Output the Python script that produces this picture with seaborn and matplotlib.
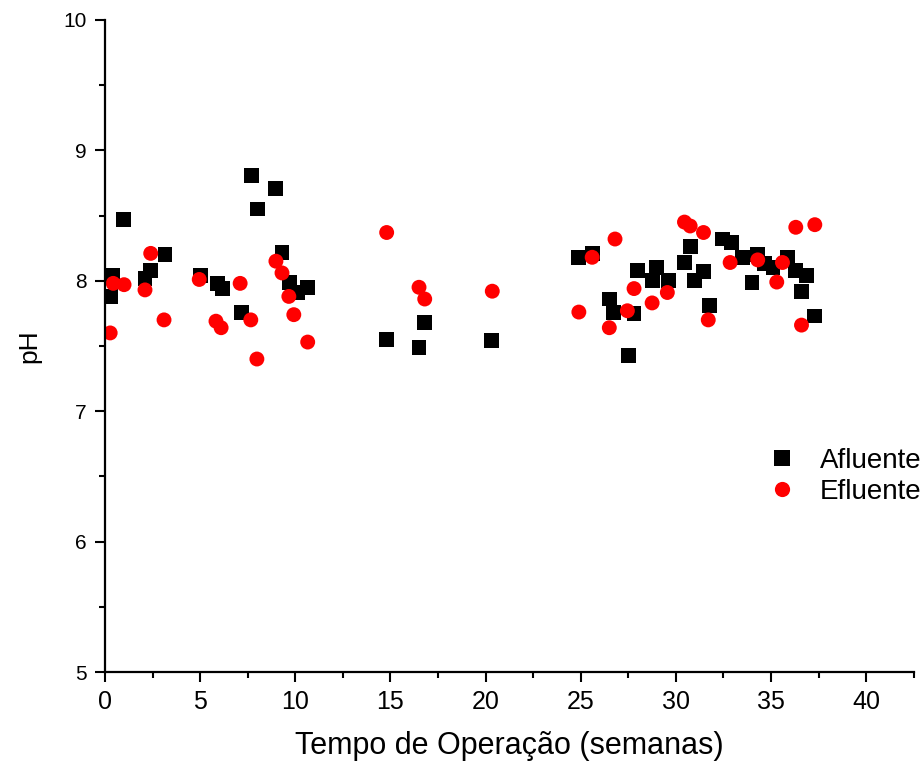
import matplotlib
matplotlib.use("Agg")
import matplotlib.pyplot as plt
import seaborn as sns
import pandas as pd
from matplotlib.ticker import MultipleLocator

afl_x = [0.27, 0.37, 0.95, 2.1, 2.4, 3.15, 5.0, 5.9, 6.15, 7.15, 7.7, 8.0, 8.98, 9.3, 9.7, 10.1, 10.65,
         14.8, 16.5, 16.8, 20.3,
         24.9, 25.6, 26.5, 26.7, 27.5, 27.8, 28.0, 28.75, 29.0, 29.6, 30.45, 30.75, 31.0, 31.45, 31.75,
         32.45, 32.9, 33.5, 34.0, 34.3, 34.65, 35.1, 35.85, 36.3, 36.6, 36.85, 37.3]
afl_y = [7.88, 8.04, 8.47, 8.02, 8.08, 8.2, 8.04, 7.98, 7.94, 7.76, 8.81, 8.55, 8.71, 8.22, 7.99, 7.91, 7.95,
         7.55, 7.49, 7.68, 7.54,
         8.18, 8.21, 7.86, 7.76, 7.43, 7.75, 8.08, 8.0, 8.1, 8.0, 8.14, 8.26, 8.0, 8.07, 7.81,
         8.32, 8.29, 8.18, 7.99, 8.2, 8.13, 8.1, 8.18, 8.08, 7.92, 8.04, 7.73]

efl_x = [0.27, 0.43, 1.0, 2.1, 2.4, 3.1, 4.95, 5.83, 6.1, 7.1, 7.66, 7.98, 8.98, 9.3, 9.66, 9.92, 10.65,
         14.8, 16.5, 16.8, 20.35,
         24.9, 25.6, 26.5, 26.8, 27.45, 27.8, 28.75, 29.55, 30.45, 30.75, 31.45, 31.7, 32.85, 34.3,
         35.3, 35.6, 36.3, 36.6, 37.3]
efl_y = [7.6, 7.98, 7.97, 7.93, 8.21, 7.70, 8.01, 7.69, 7.64, 7.98, 7.70, 7.40, 8.15, 8.06, 7.88, 7.74, 7.53,
         8.37, 7.95, 7.86, 7.92,
         7.76, 8.18, 7.64, 8.32, 7.77, 7.94, 7.83, 7.91, 8.45, 8.42, 8.37, 7.70, 8.14, 8.16,
         7.99, 8.14, 8.41, 7.66, 8.43]

series_names = ["Afluente", "Efluente"]
xlabel = "Tempo de Operação (semanas)"
ylabel = "pH"

df = pd.concat([
    pd.DataFrame({"x": afl_x, "y": afl_y, "serie": series_names[0]}),
    pd.DataFrame({"x": efl_x, "y": efl_y, "serie": series_names[1]}),
], ignore_index=True)

sns.set_style("ticks")
plt.rcParams["font.family"] = ["Liberation Sans", "DejaVu Sans"]
plt.rcParams["text.color"] = "black"
plt.rcParams["axes.labelcolor"] = "black"
plt.rcParams["xtick.color"] = "black"
plt.rcParams["ytick.color"] = "black"

fig = plt.figure(figsize=(9.23, 7.69), dpi=100)
ax = fig.add_axes([0.1138, 0.1261, 0.8762, 0.848])

sns.scatterplot(data=df, x="x", y="y", hue="serie", style="serie",
                palette={"Afluente": "black", "Efluente": "#ff0000"},
                markers={"Afluente": "s", "Efluente": "o"},
                s=120, linewidth=0, edgecolor="none", ax=ax, legend=True)
for coll, sz in zip(ax.collections, [115, 175]):
    coll.set_sizes([sz])

ax.set_xlim(0, 42.5)
ax.set_ylim(5, 10)
ax.xaxis.set_major_locator(MultipleLocator(5))
ax.xaxis.set_minor_locator(MultipleLocator(2.5))
ax.yaxis.set_major_locator(MultipleLocator(1))
ax.yaxis.set_minor_locator(MultipleLocator(0.5))
for s in ["top", "right"]:
    ax.spines[s].set_visible(False)
for s in ["left", "bottom"]:
    ax.spines[s].set_linewidth(1.6)
    ax.spines[s].set_color("black")
ax.tick_params(which="major", direction="out", length=7, width=1.5, color="black", pad=6)
ax.tick_params(which="minor", direction="out", length=4.5, width=1.5, color="black")
ax.tick_params(axis="x", labelsize=18)
ax.tick_params(axis="y", labelsize=15)

ax.set_xlabel(xlabel, fontsize=22, labelpad=12)
ax.set_ylabel(ylabel, fontsize=19, labelpad=16)

handles, labels = ax.get_legend_handles_labels()
leg = ax.legend(handles, labels, frameon=False, loc="center left",
                bbox_to_anchor=(0.789, 0.30), fontsize=20, handlelength=1.0,
                handletextpad=0.85, borderpad=0.4, labelspacing=0.2, markerscale=1.0)

fig.savefig("out.png", dpi=100)
